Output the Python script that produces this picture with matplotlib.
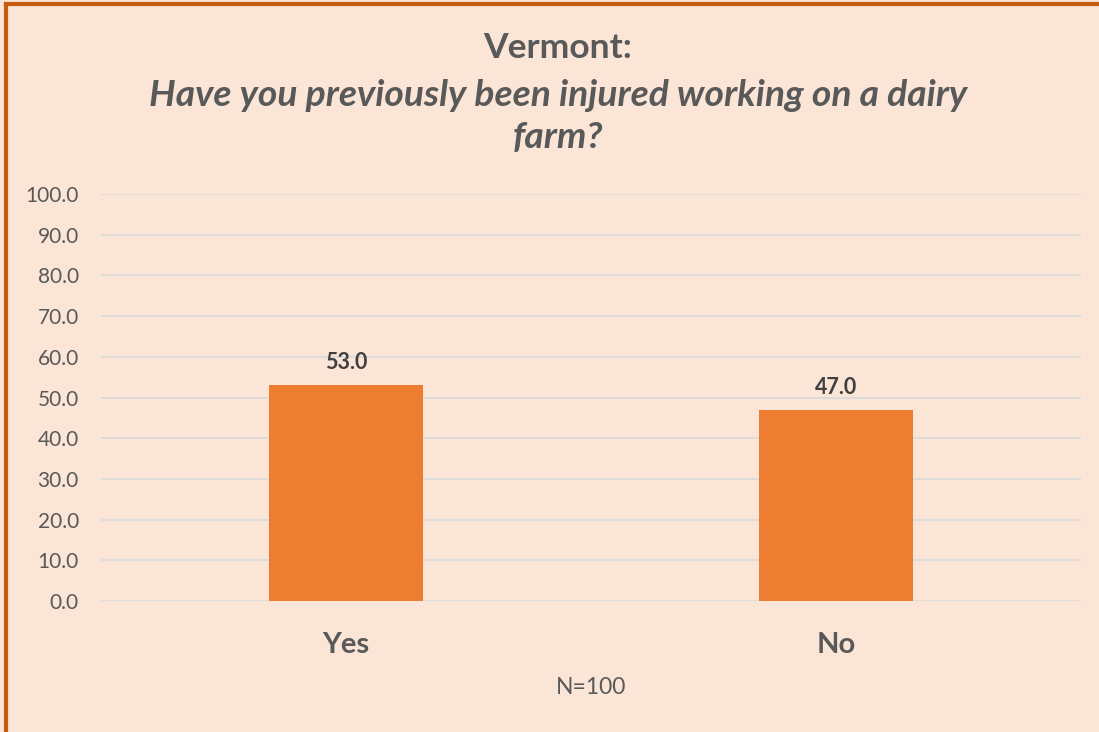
import matplotlib.pyplot as plt
from matplotlib.lines import Line2D

categories = ["Yes", "No"]
percentages = [53.0, 47.0]
y_ticks = [0, 10, 20, 30, 40, 50, 60, 70, 80, 90, 100]
sample_note = "N=100"

bg = "#FBE5D6"
bar_color = "#ED7D31"
frame_color = "#C55A11"
text_color = "#595959"
grid_color = "#D9D9D9"

plt.rcParams["font.family"] = ["Lato", "DejaVu Sans"]

fig = plt.figure(figsize=(10.99, 7.32), dpi=100, facecolor=bg)
ax = fig.add_axes([101 / 1099, 1 - 601 / 732, 980 / 1099, 407 / 732])
ax.set_facecolor(bg)

x = range(len(categories))
bars = ax.bar(x, percentages, width=0.313, color=bar_color, zorder=3)
for b, v in zip(bars, percentages):
    ax.text(b.get_x() + b.get_width() / 2, v + 3, f"{v:.1f}", ha="center", va="bottom",
            fontsize=15.5, fontweight="bold", color="#404040")

ax.set_xlim(-0.5, 1.5)
ax.set_ylim(0, 100)
ax.set_yticks(y_ticks)
ax.set_yticklabels([f"{t:.1f}" for t in y_ticks], fontsize=15, color=text_color)
ax.set_xticks(list(x))
ax.set_xticklabels(categories, fontsize=21, fontweight="bold", color=text_color)
ax.tick_params(axis="both", length=0)
ax.tick_params(axis="x", pad=22)
ax.tick_params(axis="y", pad=16)
ax.grid(axis="y", color=grid_color, linewidth=1.2, zorder=0)
for s in ax.spines.values():
    s.set_visible(False)

# titles
fig.text(558 / 1099, 1 - 48 / 732, "Vermont:", ha="center", va="center",
         fontsize=25.5, fontweight="bold", color=text_color)
fig.text(558 / 1099, 1 - 95 / 732, "Have you previously been injured working on a dairy",
         ha="center", va="center", fontsize=26.8, fontweight="bold", style="italic", color=text_color)
fig.text(558 / 1099, 1 - 138 / 732, "farm?", ha="center", va="center",
         fontsize=26.8, fontweight="bold", style="italic", color=text_color)
fig.text(591 / 1099, 1 - 688 / 732, sample_note, ha="center", va="center",
         fontsize=16.5, color=text_color)

# outer frame (top and left edges)
fig.add_artist(Line2D([6 / 1099, 1], [1 - 4 / 732, 1 - 4 / 732], transform=fig.transFigure,
                      color=frame_color, linewidth=3))
fig.add_artist(Line2D([6 / 1099, 6 / 1099], [0, 1 - 4 / 732], transform=fig.transFigure,
                      color=frame_color, linewidth=3))

fig.savefig("out.png", dpi=100, facecolor=bg)
